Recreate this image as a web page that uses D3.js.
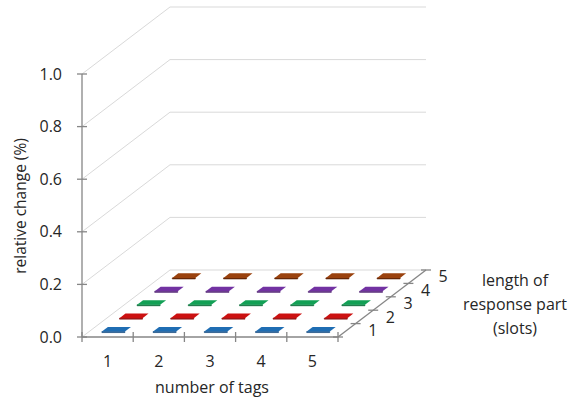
<!DOCTYPE html>
<html>
<head>
<meta charset="utf-8">
<script src="https://cdn.jsdelivr.net/npm/d3@7/dist/d3.min.js"></script>
<style>
  html, body { margin: 0; padding: 0; background: #fff; }
  svg { display: block; }
  text { font-family: "Open Sans", Lato, sans-serif; fill: #262626; }
</style>
</head>
<body>
<svg id="chart" width="571" height="409"></svg>
<script>
// Categories along the front axis (number of tags) and along depth (slots)
const tags = ["1", "2", "3", "4", "5"];
const slots = ["1", "2", "3", "4", "5"];
// Relative change (%) per slot length (rows) and number of tags (columns)
const slot1 = [0.004, 0.004, 0.004, 0.004, 0.004];
const slot2 = [0.004, 0.004, 0.004, 0.004, 0.004];
const slot3 = [0.004, 0.004, 0.004, 0.004, 0.004];
const slot4 = [0.004, 0.004, 0.004, 0.004, 0.004];
const slot5 = [0.004, 0.004, 0.004, 0.004, 0.004];
const seriesValues = [slot1, slot2, slot3, slot4, slot5];
const valueTicks = [0, 0.2, 0.4, 0.6, 0.8, 1.0];
const seriesColors = ["#1f6db3", "#cc1111", "#12a055", "#7232a2", "#9a420e"];
const seriesEdge = ["#124a80", "#8a0a0a", "#0a6c39", "#4d1f70", "#66280a"];

const svg = d3.select("#chart");

// Projection frame: front-left corner of the floor, depth offset vector
const origin = [82, 337];
const depthVec = [88, -67];

const x = d3.scaleBand().domain(tags).range([0, 256]);
const z = d3.scaleBand().domain(slots).range([0, 1]);
const y = d3.scaleLinear().domain([0, 1]).range([0, 263]);

// (horizontal px, depth fraction, value) -> screen point
function project(px, dz, v) {
  return [origin[0] + px + dz * depthVec[0], origin[1] + dz * depthVec[1] - y(v)];
}
const line = d3.line();

// Walls: gridlines on the side and back walls
const grid = svg.append("g").attr("fill", "none").attr("stroke", "#d9d9d9").attr("stroke-width", 1);
valueTicks.forEach(v => {
  grid.append("path").attr("d", line([project(0, 0, v), project(0, 1, v), project(256, 1, v)]));
});

// Bars: near-flat boxes on the floor
const barW = 0.45, barD = 0.34;
const bars = svg.append("g");
for (let si = slots.length - 1; si >= 0; si--) {
  const zc = z(slots[si]) + z.bandwidth() / 2;
  const z0 = zc - z.bandwidth() * barD / 2, z1 = zc + z.bandwidth() * barD / 2;
  tags.forEach((t, ti) => {
    const v = seriesValues[si][ti];
    const xc = x(t) + x.bandwidth() / 2;
    const x0 = xc - x.bandwidth() * barW / 2, x1 = xc + x.bandwidth() * barW / 2;
    // front face
    bars.append("path")
      .attr("d", line([project(x0, z0, 0), project(x1, z0, 0), project(x1, z0, v), project(x0, z0, v)]) + "Z")
      .attr("fill", seriesEdge[si]).attr("stroke", seriesEdge[si]).attr("stroke-width", 0.6);
    // top face
    bars.append("path")
      .attr("d", line([project(x0, z0, v), project(x1, z0, v), project(x1, z1, v), project(x0, z1, v)]) + "Z")
      .attr("fill", seriesColors[si]);
  });
}

// Axes
const axisColor = "#868686";
const axes = svg.append("g").attr("stroke", axisColor).attr("stroke-width", 1.3).attr("fill", "none");
// value axis
axes.append("path").attr("d", line([project(0, 0, 0), project(0, 0, 1)]));
valueTicks.forEach(v => {
  const p = project(0, 0, v);
  axes.append("path").attr("d", line([[p[0] - 5, p[1]], [p[0] + 5, p[1]]]));
});
// front category axis
axes.append("path").attr("d", line([project(0, 0, 0), project(256, 0, 0)]));
x.domain().concat(["end"]).forEach((t, i) => {
  const px = i < tags.length ? x(t) : 256;
  const p = project(px, 0, 0);
  axes.append("path").attr("d", line([[p[0], p[1] - 5], [p[0], p[1] + 5]]));
});
// depth axis
axes.append("path").attr("d", line([project(256, 0, 0), project(256, 1, 0)]));
[0].concat(slots.map(s => z(s) + z.bandwidth())).forEach(dz => {
  const p = project(256, dz, 0);
  axes.append("path").attr("d", line([[p[0] - 5, p[1]], [p[0] + 5, p[1]]]));
});

// Tick labels
const labels = svg.append("g").attr("font-size", 16);
valueTicks.forEach(v => {
  const p = project(0, 0, v);
  labels.append("text").attr("x", p[0] - 20).attr("y", p[1]).attr("dy", "0.35em")
    .attr("text-anchor", "end").text(d3.format(".1f")(v));
});
tags.forEach(t => {
  const p = project(x(t) + x.bandwidth() / 2, 0, 0);
  labels.append("text").attr("x", p[0]).attr("y", p[1] + 24).attr("dy", "0.35em")
    .attr("text-anchor", "middle").text(t);
});
slots.forEach(s => {
  const p = project(256, z(s) + z.bandwidth() / 2, 0);
  labels.append("text").attr("x", p[0] + 26).attr("y", p[1]).attr("dy", "0.35em")
    .attr("text-anchor", "middle").text(s);
});

// Axis titles
svg.append("text").attr("font-size", 15.5).attr("text-anchor", "middle")
  .attr("transform", "translate(26,206) rotate(-90)").text("relative change (%)");
svg.append("text").attr("font-size", 16).attr("text-anchor", "middle")
  .attr("x", 212).attr("y", 393).text("number of tags");
const depthTitle = svg.append("text").attr("font-size", 16).attr("text-anchor", "middle");
["length of", "response part", "(slots)"].forEach((s, i) => {
  depthTitle.append("tspan").attr("x", 515).attr("y", 286 + i * 24).text(s);
});
</script>
</body>
</html>
